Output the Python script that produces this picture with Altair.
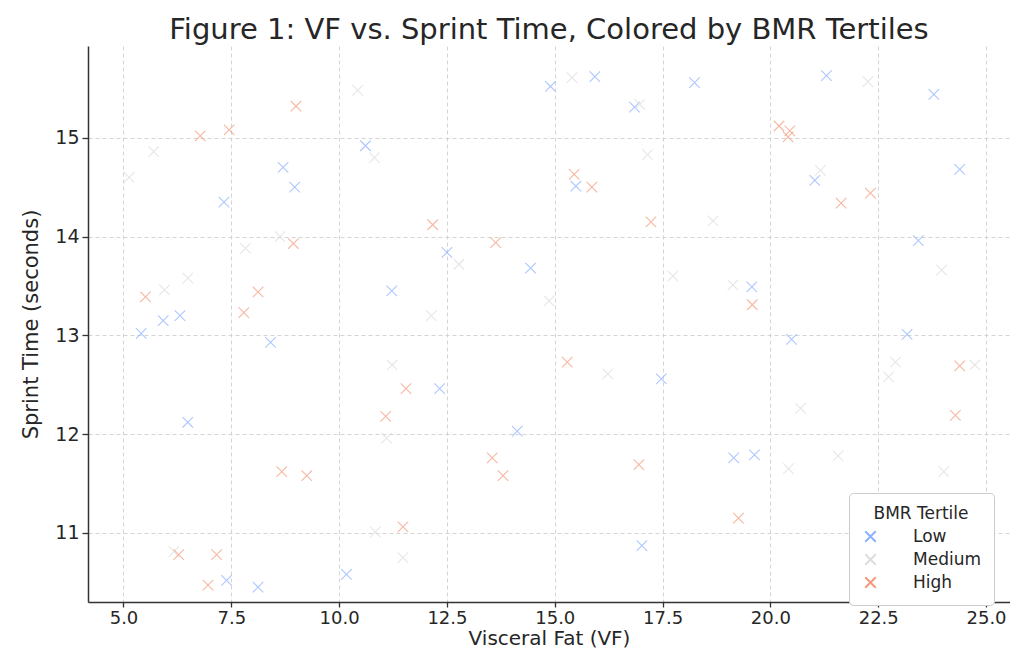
import altair as alt
import pandas as pd

low_vf = [5.41, 5.92, 6.31, 8.41, 6.49, 7.33, 8.70, 8.97, 10.61, 11.22, 7.39, 8.12, 10.17,
          14.90, 15.93, 16.85, 18.24, 15.49, 12.50, 14.44, 12.33, 14.13, 17.47, 17.02,
          21.30, 23.79, 21.03, 24.39, 23.43, 19.57, 23.17, 20.49, 19.15, 19.63]
low_st = [13.02, 13.15, 13.20, 12.93, 12.12, 14.35, 14.70, 14.50, 14.92, 13.45, 10.52, 10.45, 10.58,
          15.52, 15.62, 15.31, 15.56, 14.51, 13.84, 13.68, 12.46, 12.03, 12.56, 10.87,
          15.63, 15.44, 14.57, 14.68, 13.96, 13.49, 13.01, 12.96, 11.76, 11.79]

med_vf = [10.43, 5.70, 5.13, 10.82, 8.63, 7.83, 6.49, 5.95, 11.23, 11.10, 10.84, 11.48, 6.17,
          15.40, 16.97, 17.15, 18.67, 12.78, 17.74, 14.87, 12.14, 16.23, 22.26, 21.16,
          23.97, 19.13, 22.90, 22.74, 24.74, 20.70, 20.42, 21.57, 24.02]
med_st = [15.48, 14.86, 14.60, 14.80, 14.00, 13.88, 13.58, 13.46, 12.70, 11.96, 11.01, 10.75, 10.81,
          15.61, 15.34, 14.83, 14.16, 13.72, 13.60, 13.35, 13.20, 12.61, 15.57, 14.67,
          13.66, 13.51, 12.73, 12.58, 12.70, 12.26, 11.65, 11.78, 11.62]

high_vf = [9.00, 6.78, 7.45, 8.94, 8.12, 5.51, 7.79, 11.55, 11.08, 8.67, 9.25, 11.48, 6.28,
           7.16, 6.96, 15.45, 15.86, 17.23, 12.17, 13.63, 15.29, 13.55, 13.80, 16.95,
           20.20, 20.45, 20.41, 21.64, 22.32, 19.58, 24.39, 24.29, 19.26]
high_st = [15.32, 15.02, 15.08, 13.93, 13.44, 13.39, 13.23, 12.46, 12.18, 11.62, 11.58, 11.06, 10.78,
           10.78, 10.47, 14.63, 14.50, 14.15, 14.12, 13.94, 12.73, 11.76, 11.58, 11.69,
           15.12, 15.07, 15.01, 14.34, 14.44, 13.31, 12.69, 12.19, 11.15]

tertiles = ["Low", "Medium", "High"]
colors = ["#8db0fe", "#dddddd", "#f49a7b"]
x_ticks = [5.0, 7.5, 10.0, 12.5, 15.0, 17.5, 20.0, 22.5, 25.0]
y_ticks = [11, 12, 13, 14, 15]

rows = []
for name, xs, ys in [("Low", low_vf, low_st), ("Medium", med_vf, med_st), ("High", high_vf, high_st)]:
    for a, b in zip(xs, ys):
        rows.append({"VF": a, "Sprint": b, "BMR Tertile": name})
df = pd.DataFrame(rows)

xshape = "M-1,-1L1,1M-1,1L1,-1"
FONT = "DejaVu Sans"

chart = alt.Chart(df).mark_point(
    shape=xshape, filled=False, size=110, strokeWidth=1.1, opacity=0.7
).encode(
    x=alt.X("VF:Q", scale=alt.Scale(domain=[4.177, 25.556], nice=False, zero=False),
            axis=alt.Axis(values=x_ticks, format=".1f", title="Visceral Fat (VF)",
                          tickSize=5, labelPadding=2, labelFontSize=18,
                          titleFontSize=20, titlePadding=1)),
    y=alt.Y("Sprint:Q", scale=alt.Scale(domain=[10.30, 15.93], nice=False, zero=False),
            axis=alt.Axis(values=y_ticks, format="d", title="Sprint Time (seconds)")),
    color=alt.Color("BMR Tertile:N",
                    scale=alt.Scale(domain=tertiles, range=colors),
                    legend=alt.Legend(
                        title="BMR Tertile", orient="none", legendX=761, legendY=447,
                        symbolType=xshape, symbolSize=110, symbolStrokeWidth=2,
                        symbolOpacity=1, fillColor="white", strokeColor="#cccccc",
                        cornerRadius=4, padding=13, titleFontSize=17, labelFontSize=17,
                        titleFont=FONT, labelFont=FONT, titleFontWeight="normal",
                        titleAnchor="middle",
                        titleColor="#262626", labelColor="#262626", labelOffset=34,
                        rowPadding=4, titlePadding=5, offset=0)),
).properties(
    width=922, height=556,
    title=alt.TitleParams("Figure 1: VF vs. Sprint Time, Colored by BMR Tertiles",
                          font=FONT, fontSize=29, fontWeight="normal", color="#262626",
                          anchor="middle", offset=1),
    autosize=alt.AutoSizeParams(type="none"),
    padding={"left": 80, "top": 38, "right": 0, "bottom": 55},
).configure_view(stroke=None).configure_axis(
    grid=True, gridDash=[4, 3], gridColor="#cfcfcf", gridWidth=0.9,
    domainColor="#333333", domainWidth=1.5, tickColor="#333333", tickWidth=1.3, tickSize=6,
    labelFont=FONT, labelFontSize=19, labelColor="#262626", labelPadding=3,
    titleFont=FONT, titleFontSize=21, titleFontWeight="normal", titleColor="#262626",
).configure_axisY(titlePadding=13)

chart.save("out.html", embed_options={"renderer": "svg", "actions": False})
